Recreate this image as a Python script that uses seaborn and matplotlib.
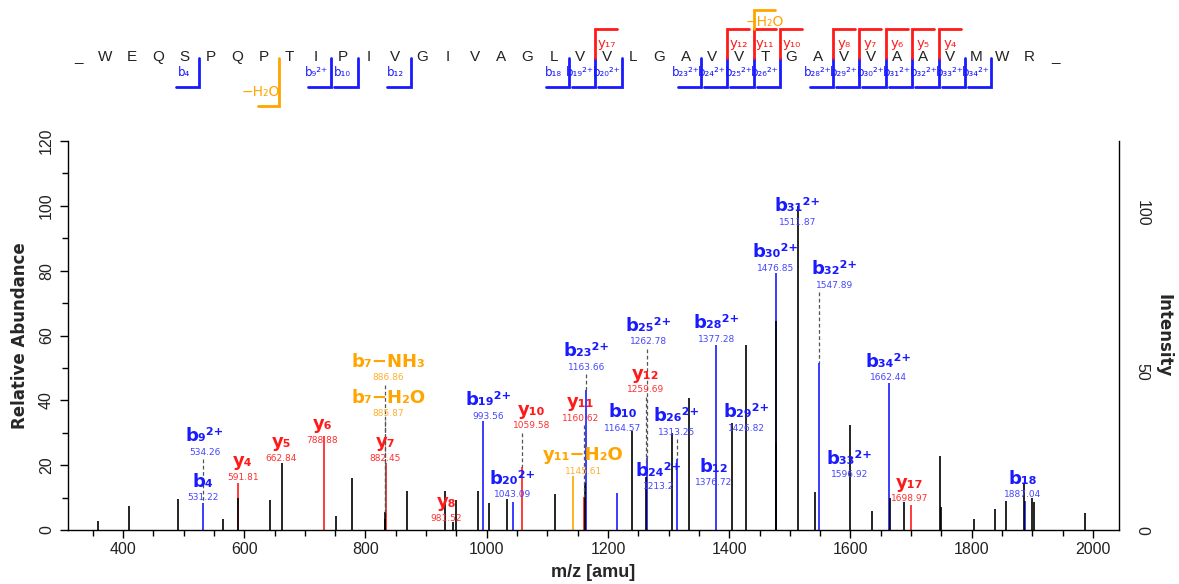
import numpy as np
import pandas as pd
import matplotlib
matplotlib.use("Agg")
import matplotlib.pyplot as plt
import seaborn as sns
from matplotlib import font_manager
from matplotlib.ticker import MultipleLocator

# ---- peptide and fragment coverage ----
residues = list("WEQSPQPTIPIVGIVAGLVVLGAVVTGAVVAAVMWR")
b_frag = [4, 9, 10, 12, 18, 19, 20, 23, 24, 25, 26, 28, 29, 30, 31, 32, 33, 34]
b_charge = [1, 2, 1, 1, 1, 2, 2, 2, 2, 2, 2, 2, 2, 2, 2, 2, 2, 2]
y_frag = [17, 12, 11, 10, 8, 7, 6, 5, 4]
b_water_loss = [7]
y_water_loss = [11]

# ---- spectrum peaks ----
other_mz = [359, 410, 491, 565, 590.4, 643, 662.6, 752, 778, 831.5, 832.8, 868, 932, 944.5,
            949.5, 986, 1004, 1033, 1113, 1162, 1239, 1262.5, 1305, 1334, 1405, 1427, 1476.5,
            1478, 1513.6, 1541, 1599.5, 1635, 1665, 1687.8, 1747, 1749, 1804, 1839, 1856,
            1886, 1899, 1903, 1987]
other_int = [2.8, 7.4, 9.7, 3.4, 10, 9.3, 20.6, 4.3, 16, 3.5, 5.6, 12.1, 12.1, 2.6,
             9.3, 12.1, 8.3, 9.6, 11, 14.6, 30.5, 16.5, 30, 40.6, 33, 57, 64.5,
             26.7, 100, 11.8, 32.4, 6, 9.8, 8.7, 22.8, 7, 3.3, 6.5, 9.1,
             14.6, 10, 8.5, 5.1]
b_mz = [532, 993.4, 1043.5, 1164.4, 1214.7, 1264.5, 1314, 1377.7, 1476.8, 1548.8, 1662.8, 1888]
b_int = [8.3, 33.6, 8.7, 43.2, 11.3, 22.2, 22, 57.1, 79.3, 51.5, 45.3, 9]
y_mz = [590.4, 731.5, 834, 1059, 1160, 1700]
y_int = [14.5, 29, 20.6, 19.5, 10.3, 7.7]
loss_mz = [1142]
loss_int = [16.8]

# ---- peak annotations ----
ann_ion = ["b₉²⁺", "b₄", "y₄", "y₅", "y₆", "y₇", "b₇−H₂O", "b₇−NH₃", "y₈", "b₁₉²⁺",
           "b₂₀²⁺", "y₁₀", "y₁₁", "y₁₁−H₂O", "b₂₃²⁺", "b₁₀", "y₁₂", "b₂₅²⁺", "b₂₆²⁺",
           "b₂₄²⁺", "b₁₂", "b₂₈²⁺", "b₂₉²⁺", "b₃₀²⁺", "b₃₁²⁺", "b₃₂²⁺", "b₃₃²⁺",
           "b₃₄²⁺", "y₁₇", "b₁₈"]
ann_mz = ["534.26", "531.22", "591.81", "662.84", "788.88", "882.45", "885.87", "886.86",
          "981.52", "993.56", "1043.09", "1059.58", "1160.62", "1145.61", "1163.66",
          "1164.57", "1259.69", "1262.78", "1313.25", "1213.2", "1376.72", "1377.28",
          "1426.82", "1476.85", "1511.87", "1547.89", "1596.92", "1662.44", "1698.97",
          "1887.04"]
ann_kind = ["b", "b", "y", "y", "y", "y", "loss", "loss", "y", "b", "b", "y", "y", "loss",
            "b", "b", "y", "b", "b", "b", "b", "b", "b", "b", "b", "b", "b", "b", "y", "b"]
ann_peak = [532, 532, 590.4, 662.6, 731.5, 834, 832.8, 832.8, 944.5, 993.4, 1043.5, 1059,
            1160, 1142, 1164.4, 1239, 1262.5, 1264.5, 1314, 1214.7, 1377.7, 1377.7, 1427,
            1476.8, 1513.6, 1548.8, 1599.5, 1662.8, 1700, 1888]
# label placement (m/z, abundance of the number line)
ann_x = [535.4, 532, 598, 661, 728.6, 832.7, 837.7, 837.7, 933.4, 1002.8, 1042.4, 1073.8,
         1154.8, 1159.7, 1164.6, 1224, 1262, 1267, 1313, 1283.6, 1374.4, 1379, 1429,
         1476.8, 1513, 1574, 1599, 1663.4, 1698, 1884.7]
ann_y = [24.0, 9.9, 16.3, 22.2, 27.7, 22.2, 35.8, 46.9, 3.7, 35.1, 10.8, 32.1, 34.5, 18.2,
         50.2, 31.4, 43.2, 58, 30.2, 13.4, 14.5, 58.9, 31.4, 80.8, 94.9, 75.5, 17.0, 46.9,
         9.6, 10.8]

colors = {"none": "black", "b": "#1a1aff", "y": "#ff1a1a", "loss": "#ffa500"}
num_colors = {"b": "#4646ff", "y": "#ff3030", "loss": "#ffb030"}

sns.set_style("ticks")
names = {f.name for f in font_manager.fontManager.ttflist}
axis_font = "Liberation Sans Narrow" if "Liberation Sans Narrow" in names else "Liberation Sans"
plt.rcParams["font.family"] = ["DejaVu Sans"]

peaks = pd.concat([
    pd.DataFrame({"mz": b_mz, "intensity": b_int, "ion": "b"}),
    pd.DataFrame({"mz": y_mz, "intensity": y_int, "ion": "y"}),
    pd.DataFrame({"mz": loss_mz, "intensity": loss_int, "ion": "loss"}),
    pd.DataFrame({"mz": other_mz, "intensity": other_int, "ion": "none"}),
], ignore_index=True)

fig = plt.figure(figsize=(11.79, 5.84), dpi=100)
ax = fig.add_axes([68 / 1179, 54 / 584, 1051 / 1179, 389 / 584])
ax2 = ax.twinx()

# coloured peaks first, unassigned (black) on top
for ion in ["b", "y", "loss", "none"]:
    sub = peaks[peaks["ion"] == ion]
    ax.vlines(sub["mz"], 0, sub["intensity"], color=colors[ion], lw=1.2)

# annotations: ion name, m/z below it, dashed link down to the peak
for i in range(len(ann_ion)):
    k = ann_kind[i]
    ax.annotate(ann_mz[i], (ann_x[i], ann_y[i]), ha="center", va="center",
                fontsize=6.5, color=num_colors[k])
    ax.annotate(ann_ion[i], (ann_x[i], ann_y[i]), xytext=(0, 11.5), textcoords="offset points",
                ha="center", va="center", fontsize=13, fontweight="bold", color=colors[k])
    tgt = peaks.iloc[(peaks["mz"] - ann_peak[i]).abs().argmin()]
    top = ann_y[i] - 2.2
    if top - tgt["intensity"] > 1.0:
        ax.plot([tgt["mz"], tgt["mz"]], [top, tgt["intensity"]], color="#555555",
                lw=0.9, ls=(0, (3, 2)))

ax.set_xlim(309.3, 2043)
ax.set_ylim(0, 120)
ax2.set_ylim(0, 122.7)
ax.xaxis.set_major_locator(MultipleLocator(200))
ax.xaxis.set_minor_locator(MultipleLocator(50))
ax.yaxis.set_major_locator(MultipleLocator(20))
ax.yaxis.set_minor_locator(MultipleLocator(10))
ax2.yaxis.set_major_locator(MultipleLocator(50))
ax2.yaxis.set_minor_locator(MultipleLocator(10))

sns.despine(ax=ax, top=True, right=True)
sns.despine(ax=ax2, top=True, left=True, bottom=True, right=False)
for a in (ax, ax2):
    for s in a.spines.values():
        s.set_color("black")
        s.set_linewidth(1.0)
    a.tick_params(which="major", length=6, width=1, color="black", direction="out")
    a.tick_params(which="minor", length=4, width=1, color="black", direction="out")

ax.tick_params(axis="x", labelsize=11.5, pad=3)
ax.tick_params(axis="y", labelsize=11.5, labelrotation=90, pad=4)
ax2.tick_params(axis="y", labelsize=11.5, labelrotation=270, pad=5)
for lab in ax.get_xticklabels() + ax.get_yticklabels() + ax2.get_yticklabels():
    lab.set_family(axis_font)
    lab.set_color("#222222")
for lab in ax.get_yticklabels() + ax2.get_yticklabels():
    lab.set_va("center")

ax.set_xlabel("m/z [amu]", fontsize=13, fontweight="bold", family=axis_font, va="center")
ax.xaxis.set_label_coords(0.5, -0.108)
ax.set_ylabel("Relative Abundance", fontsize=12, fontweight="bold", va="center")
ax.yaxis.set_label_coords(-0.0457, 0.5)
ax2.set_ylabel("Intensity", fontsize=12, fontweight="bold", rotation=270, va="center")
ax2.yaxis.set_label_coords(1.042, 0.5)

# ---- sequence with fragment brackets (pixel layout) ----
seq = fig.add_axes([0, 1 - 120 / 584, 1, 120 / 584])
seq.set_xlim(0, 1179)
seq.set_ylim(120, 0)
seq.axis("off")
letters = ["_"] + residues + ["_"]
seq_x = 78.6 + 26.4 * np.arange(len(letters))
for x, c in zip(seq_x, letters):
    seq.text(x, 57, c, ha="center", va="center", fontsize=11, color="#222222",
             family="Liberation Sans")


def cut(n):
    return (seq_x[n] + seq_x[n + 1]) / 2 + 2


sub = str.maketrans("0123456789", "₀₁₂₃₄₅₆₇₈₉")
for n, z in zip(b_frag, b_charge):
    x = cut(n)
    seq.plot([x, x, x - 23.5], [58, 87, 87], color=colors["b"], lw=2, solid_joinstyle="miter")
    lab = "b" + str(n).translate(sub) + ("²⁺" if z == 2 else "")
    seq.text(seq_x[n], 73, lab, ha="center", va="center", fontsize=8.5, color=colors["b"])
for k in y_frag:
    n = len(residues) - k
    x = cut(n)
    seq.plot([x, x, x + 22], [58, 29, 29], color=colors["y"], lw=2, solid_joinstyle="miter")
    seq.text(seq_x[n + 1], 43, "y" + str(k).translate(sub), ha="center", va="center",
             fontsize=9.5, color=colors["y"])
for n in b_water_loss:
    x = cut(n)
    seq.plot([x, x, x - 21], [58, 106, 106], color=colors["loss"], lw=2, solid_joinstyle="miter")
    seq.text(seq_x[n] - 3, 92, "−H₂O", ha="center", va="center", fontsize=10,
             color=colors["loss"])
for k in y_water_loss:
    n = len(residues) - k
    x = cut(n)
    seq.plot([x, x, x + 21], [29, 10, 10], color=colors["loss"], lw=2, solid_joinstyle="miter")
    seq.text(seq_x[n + 1], 22, "−H₂O", ha="center", va="center", fontsize=10,
             color=colors["loss"])

fig.savefig("out.png", dpi=100)
